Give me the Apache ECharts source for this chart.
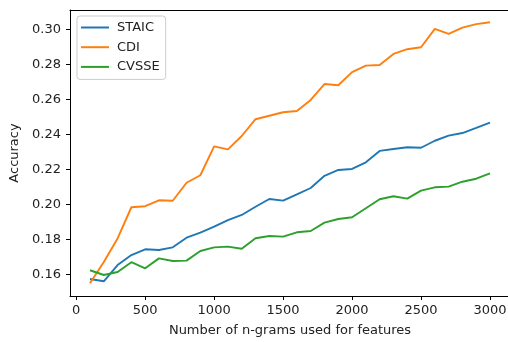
<!DOCTYPE html>
<html>
<head>
<meta charset="utf-8">
<script src="https://cdn.jsdelivr.net/npm/echarts@6/dist/echarts.min.js"></script>
<style>
  html, body { margin: 0; padding: 0; background: #fff; }
  #chart { width: 508px; height: 342px; }
</style>
</head>
<body>
<div id="chart"></div>
<script>
// Number of n-gram features used by each run
const nGrams = [100, 200, 300, 400, 500, 600, 700, 800, 900, 1000,
  1100, 1200, 1300, 1400, 1500, 1600, 1700, 1800, 1900, 2000,
  2100, 2200, 2300, 2400, 2500, 2600, 2700, 2800, 2900, 3000];

// Accuracy per dataset
const staic = [0.1573, 0.1560, 0.1653, 0.1710, 0.1743, 0.1739, 0.1754, 0.1809, 0.1838, 0.1872,
  0.1910, 0.1939, 0.1986, 0.2030, 0.2021, 0.2057, 0.2093, 0.2163, 0.2196, 0.2202,
  0.2240, 0.2305, 0.2316, 0.2326, 0.2323, 0.2363, 0.2392, 0.2407, 0.2436, 0.2466];
const cdi = [0.1549, 0.1670, 0.1805, 0.1983, 0.1989, 0.2023, 0.2020, 0.2123, 0.2166, 0.2331,
  0.2314, 0.2390, 0.2486, 0.2506, 0.2526, 0.2533, 0.2596, 0.2687, 0.2680, 0.2755,
  0.2792, 0.2796, 0.2859, 0.2886, 0.2897, 0.3002, 0.2973, 0.3009, 0.3029, 0.3040];
const cvsse = [0.1623, 0.1596, 0.1613, 0.1669, 0.1634, 0.1691, 0.1676, 0.1678, 0.1733, 0.1754,
  0.1758, 0.1746, 0.1806, 0.1819, 0.1815, 0.1840, 0.1847, 0.1895, 0.1916, 0.1926,
  0.1977, 0.2029, 0.2046, 0.2032, 0.2078, 0.2097, 0.2101, 0.2129, 0.2146, 0.2177];

// Tick positions
const xTicks = [0, 500, 1000, 1500, 2000, 2500, 3000];
const yTicks = [0.16, 0.18, 0.20, 0.22, 0.24, 0.26, 0.28, 0.30];

const seriesNames = ['STAIC', 'CDI', 'CVSSE'];
const seriesColors = ['#1f77b4', '#ff7f0e', '#2ca02c'];
const seriesValues = [staic, cdi, cvsse];

const font = 'DejaVu Sans';
const fontSize = 13;
const textColor = '#222';

const xRange = { min: -45, max: 3145 };

const chart = echarts.init(document.getElementById('chart'), null, { renderer: 'canvas' });

chart.setOption({
  animation: false,
  backgroundColor: '#fff',
  textStyle: { fontFamily: font },
  grid: {
    left: 70, top: 10, width: 440, height: 286,
    outerBoundsMode: 'none',
    containLabel: false,
    show: false
  },
  legend: {
    orient: 'vertical',
    left: 77, top: 16,
    data: seriesNames,
    icon: 'rect',
    itemWidth: 28, itemHeight: 2,
    itemGap: 4.7,
    padding: [4, 6, 5, 4],
    borderColor: '#cccccc', borderWidth: 1, borderRadius: 3,
    backgroundColor: 'rgba(255,255,255,0.8)',
    textStyle: { fontFamily: font, fontSize: fontSize, color: textColor, lineHeight: 15, padding: [0, 0, 0, 3] }
  },
  xAxis: [{
    type: 'value',
    position: 'bottom',
    min: xRange.min, max: xRange.max,
    name: 'Number of n-grams used for features',
    nameLocation: 'middle',
    nameGap: 28,
    nameTextStyle: { fontFamily: font, fontSize: fontSize, color: textColor },
    axisLine: { show: true, onZero: false, lineStyle: { color: '#000', width: 1 } },
    axisTick: { show: true, length: 4, lineStyle: { color: '#000', width: 1 }, customValues: xTicks },
    axisLabel: {
      margin: 8, fontSize: fontSize, color: textColor, fontFamily: font, customValues: xTicks,
      formatter: v => String(v)
    },
    splitLine: { show: false }
  }, {
    // top frame line only
    type: 'value',
    position: 'top',
    min: xRange.min, max: xRange.max,
    axisLine: { show: true, onZero: false, lineStyle: { color: '#000', width: 1 } },
    axisTick: { show: false },
    axisLabel: { show: false },
    splitLine: { show: false }
  }],
  yAxis: {
    type: 'value',
    min: 0.1476, max: 0.311,
    name: 'Accuracy',
    nameLocation: 'middle',
    nameGap: 45,
    nameTextStyle: { fontFamily: font, fontSize: fontSize, color: textColor },
    axisLine: { show: true, onZero: false, lineStyle: { color: '#000', width: 1 } },
    axisTick: { show: true, length: 4, lineStyle: { color: '#000', width: 1 }, customValues: yTicks },
    axisLabel: {
      margin: 9, fontSize: fontSize, color: textColor, fontFamily: font, customValues: yTicks,
      formatter: v => v.toFixed(2)
    },
    splitLine: { show: false }
  },
  series: seriesNames.map((name, i) => ({
    name,
    type: 'line',
    xAxisIndex: 0,
    data: nGrams.map((x, j) => [x, seriesValues[i][j]]),
    symbol: 'none',
    color: seriesColors[i],
    lineStyle: { color: seriesColors[i], width: 1.9 }
  }))
});
</script>
</body>
</html>
